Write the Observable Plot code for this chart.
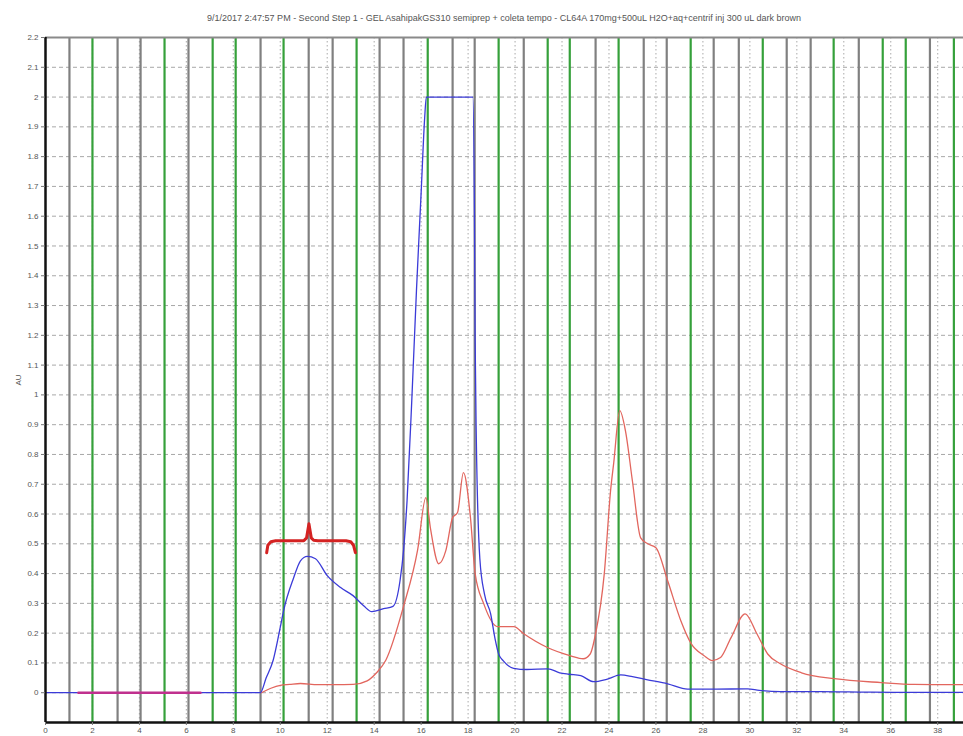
<!DOCTYPE html>
<html>
<head>
<meta charset="utf-8">
<script src="https://cdn.jsdelivr.net/npm/d3@7"></script>
<script src="https://cdn.jsdelivr.net/npm/@observablehq/plot@0.6"></script>
<style>
  html, body { margin: 0; padding: 0; background: #fff; overflow: hidden; }
  #title { height: 30px; box-sizing: border-box; padding: 13px 0 0 45px; text-align: center;
           font: 9px "Liberation Sans", Arial, sans-serif; color: #555; line-height: 10px; white-space: nowrap; }
  #chart svg { display: block; font-family: "Liberation Sans", Arial, sans-serif; }
</style>
</head>
<body>
<div id="title">9/1/2017 2:47:57 PM - Second Step 1 - GEL AsahipakGS310 semiprep + coleta tempo - CL64A 170mg+500uL H2O+aq+centrif inj 300 uL dark brown</div>
<div id="chart"></div>
<script>
// ---- data ----
const xTicks = [0, 2, 4, 6, 8, 10, 12, 14, 16, 18, 20, 22, 24, 26, 28, 30, 32, 34, 36, 38];
const yTicks = [0, 0.1, 0.2, 0.3, 0.4, 0.5, 0.6, 0.7, 0.8, 0.9, 1, 1.1, 1.2, 1.3, 1.4, 1.5, 1.6, 1.7, 1.8, 1.9, 2, 2.1, 2.2];
const yTickLabels = ["0","0.1","0.2","0.3","0.4","0.5","0.6","0.7","0.8","0.9","1","1.1","1.2","1.3","1.4","1.5","1.6","1.7","1.8","1.9","2","2.1","2.2"];
const xGrid = [2, 4, 6, 8, 10, 12, 14, 16, 18, 20, 22, 24, 26, 28, 30, 32, 34, 36, 38];
const yGrid = [0, 0.1, 0.2, 0.3, 0.4, 0.5, 0.6, 0.7, 0.8, 0.9, 1, 1.1, 1.2, 1.3, 1.4, 1.5, 1.6, 1.7, 1.8, 1.9, 2, 2.1];

// fraction collector marks (min) and their colour class
const fracTimes = [1.02, 2.00, 3.07, 4.05, 5.07, 6.09, 7.12, 8.10, 9.16, 10.14, 11.21, 12.23, 13.25, 14.23, 15.25, 16.28, 17.34, 18.28, 19.30, 20.37, 21.39, 22.33, 23.43, 24.41, 25.48, 26.46, 27.48, 28.46, 29.53, 30.55, 31.57, 32.59, 33.57, 34.64, 35.66, 36.64, 37.67, 38.69];
const fracKinds = ["k","g","k","k","g","k","g","g","k","g","k","k","g","k","k","g","k","k","g","k","g","g","k","g","k","k","g","k","k","g","k","k","g","k","g","g","k","g"];

// blue trace
const blueX = [0, 9.15, 9.4, 9.7, 10.0, 10.14, 10.57, 10.86, 11.15, 11.5, 12.0, 12.57, 13.1, 13.55, 13.9, 14.4, 14.8, 15.1, 15.25, 15.4, 15.6, 15.8, 16.0, 16.15, 16.22, 18.2, 18.27, 18.3, 18.35, 18.5, 18.7, 18.96, 19.15, 19.3, 19.5, 19.94, 20.5, 21.4, 21.9, 22.3, 22.8, 23.35, 23.9, 24.5, 25.0, 25.6, 26.5, 27.35, 28.5, 29.9, 30.4, 31.3, 33.0, 35.0, 37.0, 39.1];
const blueY = [0, 0, 0.05, 0.11, 0.22, 0.275, 0.386, 0.443, 0.458, 0.45, 0.393, 0.353, 0.326, 0.292, 0.272, 0.282, 0.29, 0.376, 0.477, 0.645, 0.98, 1.35, 1.68, 1.93, 2.0, 2.0, 1.6, 1.18, 0.85, 0.45, 0.33, 0.265, 0.18, 0.13, 0.107, 0.082, 0.078, 0.08, 0.067, 0.062, 0.057, 0.037, 0.045, 0.06, 0.054, 0.044, 0.03, 0.012, 0.012, 0.013, 0.008, 0.004, 0.004, 0.002, 0.001, 0.001];

// red trace (main)
const redX = [9.2, 9.6, 10.0, 10.4, 10.86, 11.6, 12.3, 13.1, 13.7, 14.1, 14.5, 15.25, 15.85, 16.2, 16.4, 16.75, 17.05, 17.34, 17.55, 17.8, 18.1, 18.3, 18.66, 19.26, 19.95, 20.37, 21.4, 22.37, 22.9, 23.2, 23.43, 23.8, 24.07, 24.2, 24.46, 24.7, 25.0, 25.35, 25.65, 26.0, 26.5, 27.06, 27.5, 28.04, 28.4, 28.75, 29.2, 29.8, 30.3, 30.76, 31.3, 32.2, 33.6, 35.6, 37.0, 39.1];
const redY = [0, 0.015, 0.025, 0.028, 0.031, 0.027, 0.027, 0.028, 0.04, 0.067, 0.11, 0.29, 0.48, 0.655, 0.55, 0.433, 0.477, 0.588, 0.605, 0.739, 0.588, 0.40, 0.30, 0.222, 0.222, 0.198, 0.151, 0.124, 0.114, 0.13, 0.198, 0.40, 0.68, 0.77, 0.947, 0.88, 0.71, 0.52, 0.50, 0.487, 0.376, 0.242, 0.165, 0.125, 0.108, 0.118, 0.185, 0.265, 0.198, 0.13, 0.097, 0.067, 0.047, 0.034, 0.028, 0.027];

// red/blue overlap segment at baseline
const pinkX = [1.4, 6.6];
const pinkY = [0, 0];

// curly bracket annotation
const braceX = [9.42, 9.47, 9.6, 9.8, 11.0, 11.12, 11.22, 11.32, 11.42, 11.6, 12.8, 13.0, 13.12, 13.2];
const braceY = [0.47, 0.495, 0.507, 0.51, 0.51, 0.52, 0.567, 0.52, 0.512, 0.51, 0.51, 0.507, 0.495, 0.47];

const toRows = (xs, ys) => xs.map((x, i) => ({x, y: ys[i]}));
const blue = toRows(blueX, blueY);
const red = toRows(redX, redY);
const pink = toRows(pinkX, pinkY);
const brace = toRows(braceX, braceY);
const fracs = fracTimes.map((t, i) => ({t, k: fracKinds[i]}));

const chart = Plot.plot({
  width: 963,
  height: 706,
  marginLeft: 45,
  marginRight: 0,
  marginTop: 7,
  marginBottom: 14,
  style: {fontSize: "8px", color: "#555", background: "#fff"},
  x: {domain: [0, 39.1]},
  y: {domain: [-0.1, 2.2]},
  marks: [
    Plot.ruleY(yGrid, {stroke: "#a8a8a8", strokeDasharray: "4,3", strokeWidth: 1}),
    Plot.ruleX(xGrid, {stroke: "#b8b8b8", strokeDasharray: "1.5,2.5", strokeWidth: 1.2}),
    Plot.ruleX(fracs.filter(d => d.k === "k"), {x: "t", stroke: "#808080", strokeWidth: 2.2}),
    Plot.ruleX(fracs.filter(d => d.k === "g"), {x: "t", stroke: "#35a03a", strokeWidth: 2.2}),
    Plot.ruleY([2.2], {stroke: "#8a8a8a", strokeWidth: 2}),
    Plot.line(red, {x: "x", y: "y", stroke: "#e2665e", strokeWidth: 1.3, curve: "monotone-x"}),
    Plot.line(blue, {x: "x", y: "y", stroke: "#3b3bd8", strokeWidth: 1.3, curve: "monotone-x"}),
    Plot.line(pink, {x: "x", y: "y", stroke: "#c0308e", strokeWidth: 2.5}),
    Plot.line(brace, {x: "x", y: "y", stroke: "#d42222", strokeWidth: 3, curve: "linear", strokeLinejoin: "round", strokeLinecap: "round"}),
    Plot.ruleX([0], {stroke: "#111", strokeWidth: 2.5}),
    Plot.ruleY([-0.1], {stroke: "#111", strokeWidth: 2.5}),
    Plot.axisY(yTicks, {tickFormat: (d, i) => yTickLabels[i], tickSize: 4, tickPadding: 3, stroke: "#777",
      label: "AU", labelAnchor: "center", labelArrow: "none", labelOffset: 30}),
    Plot.axisX(xTicks, {tickFormat: d => String(d), tickSize: 3, tickPadding: 2, stroke: "#777", label: null})
  ]
});
document.getElementById("chart").appendChild(chart);
</script>
</body>
</html>
